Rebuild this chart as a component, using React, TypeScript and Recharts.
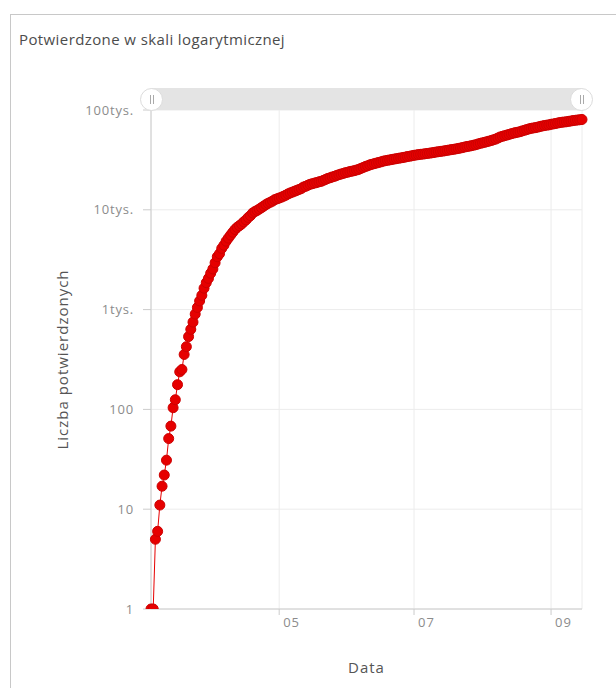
import { CartesianGrid, Line, LineChart, XAxis, YAxis } from "recharts";

// daily cumulative confirmed cases, starting 2020-03-04
const startDate = Date.UTC(2020, 2, 4);
const confirmedMar = [1, 1, 5, 6, 11, 17, 22, 31, 51, 68, 104, 125, 177, 238, 251, 355, 425, 536, 634, 749, 901, 1051, 1221, 1389, 1638, 1862, 2055, 2311];
const confirmedApr = [2554, 2946, 3383, 3627, 4102, 4413, 4848, 5205, 5575, 5955, 6356, 6674, 6934, 7202, 7582, 7918, 8379, 8742, 9287, 9593, 9856, 10169, 10511, 10892, 11273, 11617, 11902, 12218, 12640, 12877];
const confirmedMay = [13105, 13375, 13693, 14006, 14431, 14740, 15047, 15366, 15651, 15996, 16326, 16921, 17204, 17615, 18016, 18257, 18529, 18746, 19074, 19268, 19739, 20143, 20619, 20931, 21326, 21631, 22074, 22473, 22825, 23155, 23571];
const confirmedJun = [23786, 24165, 24395, 24687, 25048, 25410, 25986, 26561, 27160, 27560, 28201, 28577, 29017, 29392, 29788, 30195, 30701, 31016, 31316, 31620, 31931, 32227, 32527, 32821, 33119, 33395, 33714, 34154, 34393, 34775];
const confirmedJul = [35146, 35405, 35719, 35950, 36155, 36412, 36689, 36951, 37216, 37521, 37891, 38190, 38457, 38721, 39054, 39407, 39746, 40104, 40383, 40782, 41162, 41580, 42038, 42622, 43076, 43402, 43904, 44416, 44927, 45688, 46346];
const confirmedAug = [46894, 47469, 48149, 48789, 49515, 50324, 51167, 52410, 53676, 54487, 55319, 56090, 56934, 57876, 58611, 59374, 59955, 60689, 61762, 62658, 63602, 64689, 65480, 66085, 66596, 67372, 68328, 69129, 69820, 70479, 70936];
const confirmedSep = [71947, 72453, 73194, 74041, 74793, 75385, 75806, 76253, 76979, 77616, 78330, 78829, 79402, 79835, 80322];

const xTicks = [Date.UTC(2020, 4, 1), Date.UTC(2020, 6, 1), Date.UTC(2020, 8, 1)];
const yTicks = [1, 10, 100, 1000, 10000, 100000];

const DAY = 86400000;
const confirmed = [
  ...confirmedMar,
  ...confirmedApr,
  ...confirmedMay,
  ...confirmedJun,
  ...confirmedJul,
  ...confirmedAug,
  ...confirmedSep,
];
const chartData = confirmed.map((value, i) => ({ t: startDate + i * DAY, value }));
const endDate = chartData[chartData.length - 1].t;

const font = "'Open Sans', sans-serif";
const red = "#e60000";
const tickColor = "#8c8c8c";

const formatMonth = (t: number) => String(new Date(t).getUTCMonth() + 1).padStart(2, "0");
const formatCount = (v: number) => (v >= 1000 ? `${v / 1000}tys.` : String(v));

// month labels sit just right of their tick, like the original
const MonthTick = (props: any) => {
  const { x, y, payload } = props;
  return (
    <text
      x={x + 4}
      y={y + 12}
      textAnchor="start"
      fill={tickColor}
      fontSize={13}
      letterSpacing={1}
      fontFamily={font}
    >
      {formatMonth(payload.value)}
    </text>
  );
};

const YTitle = (props: any) => {
  const vb = props.viewBox;
  const x = vb.x + 1;
  const y = vb.y + vb.height / 2;
  return (
    <text
      x={x}
      y={y}
      transform={`rotate(-90 ${x} ${y})`}
      textAnchor="middle"
      dominantBaseline="central"
      fill="#555"
      fontSize={15}
      letterSpacing={1}
      fontFamily={font}
    >
      Liczba potwierdzonych
    </text>
  );
};

const XTitle = (props: any) => {
  const vb = props.viewBox;
  return (
    <text
      x={vb.x + vb.width / 2}
      y={vb.y + 58}
      textAnchor="middle"
      dominantBaseline="central"
      fill="#555"
      fontSize={15}
      letterSpacing={1}
      fontFamily={font}
    >
      Data
    </text>
  );
};

const Handle = ({ left }: { left: number }) => (
  <div
    style={{
      position: "absolute",
      left: left - 11,
      top: 88,
      width: 21,
      height: 21,
      borderRadius: "50%",
      background: "#fff",
      border: "1px solid #dcdcdc",
      display: "flex",
      alignItems: "center",
      justifyContent: "center",
      gap: 2,
    }}
  >
    <div style={{ width: 1, height: 9, background: "#aaa" }} />
    <div style={{ width: 1, height: 9, background: "#aaa" }} />
  </div>
);

export default function App() {
  return (
    <div
      style={{
        position: "absolute",
        left: 0,
        top: 0,
        width: 616,
        height: 688,
        overflow: "hidden",
        background: "#fff",
        fontFamily: font,
      }}
    >
      <div
        style={{
          position: "absolute",
          left: 10,
          top: 14,
          width: 700,
          height: 720,
          border: "1px solid #c8c8c8",
          boxSizing: "border-box",
        }}
      />
      <div
        style={{
          position: "absolute",
          left: 19,
          top: 29,
          fontSize: 15,
          letterSpacing: 0.4,
          color: "#4c4c4c",
          whiteSpace: "nowrap",
        }}
      >
        Potwierdzone w skali logarytmicznej
      </div>
      <div style={{ position: "absolute", left: 0, top: 0 }}>
        <LineChart
          width={616}
          height={688}
          data={chartData}
          margin={{ top: 110, right: 34, bottom: 9, left: 61 }}
        >
          <CartesianGrid stroke="#ececec" />
          <XAxis
            dataKey="t"
            type="number"
            scale="time"
            domain={[startDate, endDate]}
            ticks={xTicks}
            tickFormatter={formatMonth}
            height={70}
            tickSize={6}
            tickMargin={0}
            stroke="#cccccc"
            tick={<MonthTick />}
            label={{ content: XTitle }}
          />
          <YAxis
            type="number"
            scale="log"
            domain={[1, 100000]}
            allowDataOverflow
            ticks={yTicks}
            tickFormatter={formatCount}
            width={90}
            tickSize={8}
            tickMargin={9}
            stroke="#cccccc"
            tick={{ fill: tickColor, fontSize: 13, letterSpacing: 0.8, fontFamily: font }}
            label={{ content: YTitle }}
          />
          <Line
            type="linear"
            dataKey="value"
            stroke={red}
            strokeWidth={1}
            dot={{ r: 5, fill: red, stroke: "#cc0000", strokeWidth: 1 }}
            activeDot={false}
            isAnimationActive={false}
          />
        </LineChart>
      </div>
      <div
        style={{
          position: "absolute",
          left: 151,
          top: 88,
          width: 431,
          height: 22,
          background: "#e4e4e4",
        }}
      />
      <Handle left={151} />
      <Handle left={581} />
    </div>
  );
}
